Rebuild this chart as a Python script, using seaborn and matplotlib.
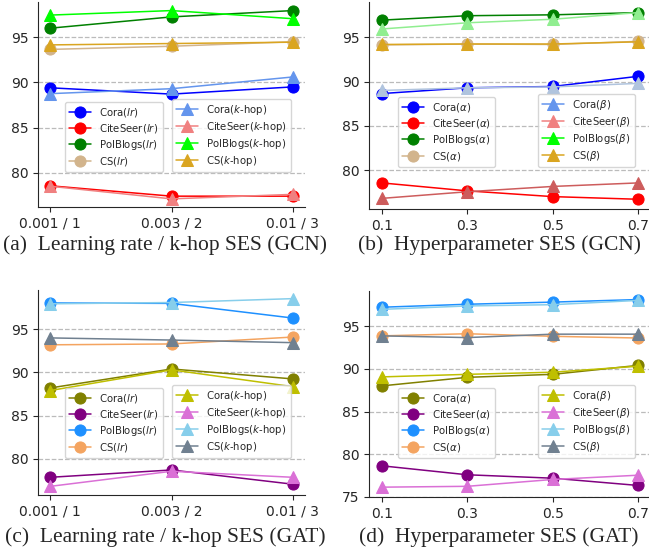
import matplotlib
matplotlib.use("Agg")
import matplotlib.pyplot as plt
import seaborn as sns
import pandas as pd

# --- data ---
datasets = ["Cora", "CiteSeer", "PolBlogs", "CS"]
lr_ticks = ["0.001 / 1", "0.003 / 2", "0.01 / 3"]
hp_ticks = [0.1, 0.3, 0.5, 0.7]

# (a) GCN: learning rate / k-hop
gcn_lr = [[89.4, 88.7, 89.5], [78.55, 77.4, 77.4], [96.0, 97.25, 97.95], [93.65, 94.0, 94.5]]
gcn_khop = [[88.75, 89.3, 90.6], [78.5, 77.1, 77.6], [97.45, 97.95, 97.05], [94.15, 94.3, 94.45]]
# (b) GCN: alpha / beta
gcn_alpha = [[88.65, 89.3, 89.45, 90.6], [78.55, 77.65, 77.0, 76.7],
             [96.95, 97.45, 97.55, 97.8], [94.15, 94.25, 94.2, 94.55]]
gcn_beta = [[89.0, 89.3, 89.4, 89.8], [76.8, 77.55, 78.15, 78.55],
            [95.95, 96.65, 97.05, 97.8], [94.2, 94.25, 94.25, 94.5]]
# (c) GAT: learning rate / k-hop
gat_lr = [[88.2, 90.4, 89.25], [77.85, 78.7, 77.05], [98.05, 98.0, 96.3], [93.2, 93.3, 94.1]]
gat_khop = [[87.9, 90.3, 88.35], [76.8, 78.55, 77.85], [97.95, 98.1, 98.55], [94.0, 93.75, 93.45]]
# (d) GAT: alpha / beta
gat_alpha = [[88.0, 89.0, 89.35, 90.4], [78.65, 77.6, 77.2, 76.35],
             [97.2, 97.55, 97.8, 98.1], [93.85, 94.1, 93.8, 93.6]]
gat_beta = [[89.05, 89.35, 89.6, 90.3], [76.15, 76.25, 77.05, 77.55],
            [96.95, 97.35, 97.5, 98.0], [93.85, 93.65, 94.05, 94.05]]

gcn_c1 = ["blue", "red", "green", "tan"]
gcn_c2 = ["cornflowerblue", "lightcoral", "lime", "goldenrod"]
gcn_c2_plot_b = ["lightsteelblue", "indianred", "lightgreen", "goldenrod"]
gat_c1 = ["olive", "purple", "dodgerblue", "sandybrown"]
gat_c2 = ["y", "orchid", "skyblue", "slategray"]

W, H = 649, 552
sns.set_style("ticks")
plt.rcParams["font.family"] = ["DejaVu Sans"]
plt.rcParams["xtick.labelsize"] = 10
plt.rcParams["ytick.labelsize"] = 10
plt.rcParams["xtick.major.size"] = 3.5
plt.rcParams["ytick.major.size"] = 3.5

fig = plt.figure(figsize=(W / 100, H / 100), dpi=100)


def px_axes(l, r, t, b):
    return fig.add_axes([l / W, 1 - b / H, (r - l) / W, (b - t) / H])


def draw_panel(ax, x, set1, set2, c1, c2, suf1, suf2, ylim, yticks, leg1_xy, leg2_xy, c2_plot=None):
    if c2_plot is None:
        c2_plot = c2
    h1 = []
    h2 = []
    for i, name in enumerate(datasets):
        df = pd.DataFrame({"x": x, "y": set1[i]})
        sns.lineplot(data=df, x="x", y="y", ax=ax, color=c1[i], marker="o", markersize=8,
                     markeredgecolor=c1[i], linewidth=1.1, label=f"{name}({suf1})", sort=False)
        h1.append(ax.lines[-1])
    for i, name in enumerate(datasets):
        df = pd.DataFrame({"x": x, "y": set2[i]})
        sns.lineplot(data=df, x="x", y="y", ax=ax, color=c2_plot[i], marker="^", markersize=8,
                     markeredgecolor=c2_plot[i], linewidth=1.1, label=f"{name}({suf2})", sort=False)
        h2.append(ax.lines[-1])
    ax.set_ylim(*ylim)
    ax.set_yticks(yticks)
    ax.set_xlabel("")
    ax.set_ylabel("")
    ax.yaxis.grid(True, linestyle="--", color="#bbbbbb", linewidth=0.9)
    ax.set_axisbelow(True)
    sns.despine(ax=ax)
    kw = dict(loc="lower left", bbox_transform=fig.transFigure, borderaxespad=0,
              fontsize=7.3, handlelength=2.2, labelspacing=0.3, borderpad=0.4)
    leg1 = ax.legend(h1, [l.get_label() for l in h1], bbox_to_anchor=(leg1_xy[0] / W, 1 - leg1_xy[1] / H), **kw)
    ax.add_artist(leg1)
    leg2 = ax.legend(h2, [l.get_label() for l in h2], bbox_to_anchor=(leg2_xy[0] / W, 1 - leg2_xy[1] / H), **kw)
    for hd, col in zip(leg2.legend_handles, c2):
        hd.set_color(col)
        hd.set_markeredgecolor(col)
        hd.set_markerfacecolor(col)


ax_a = px_axes(38, 305, 2, 207)
draw_panel(ax_a, lr_ticks, gcn_lr, gcn_khop, gcn_c1, gcn_c2, r"$\mathit{lr}$", r"$k$-hop",
           (76.2, 98.9), [80, 85, 90, 95], (65, 172), (172, 172))

ax_b = px_axes(369, 651, 2, 209)
draw_panel(ax_b, hp_ticks, gcn_alpha, gcn_beta, gcn_c1, gcn_c2, r"$\alpha$", r"$\beta$",
           (75.6, 99.0), [80, 85, 90, 95], (398, 167), (538, 167), c2_plot=gcn_c2_plot_b)
ax_b.set_xticks(hp_ticks)
ax_b.set_xlim(0.07, 0.73)

ax_c = px_axes(38, 305, 290, 495)
draw_panel(ax_c, lr_ticks, gat_lr, gat_khop, gat_c1, gat_c2, r"$\mathit{lr}$", r"$k$-hop",
           (75.8, 99.55), [80, 85, 90, 95], (65, 458), (172, 458))

ax_d = px_axes(369, 651, 291, 497)
draw_panel(ax_d, hp_ticks, gat_alpha, gat_beta, gat_c1, gat_c2, r"$\alpha$", r"$\beta$",
           (75.0, 99.1), [75, 80, 85, 90, 95], (398, 458), (538, 458))
ax_d.set_xticks(hp_ticks)
ax_d.set_xlim(0.07, 0.73)

for ax in (ax_a, ax_c):
    ax.set_xlim(-0.1, 2.1)

cap = dict(ha="center", va="center", fontsize=15.5, family=["Liberation Serif"])
fig.text(165 / W, 1 - 245 / H, "(a)  Learning rate / k-hop SES (GCN)", **cap)
fig.text(499 / W, 1 - 245 / H, "(b)  Hyperparameter SES (GCN)", **cap)
fig.text(165 / W, 1 - 537 / H, "(c)  Learning rate / k-hop SES (GAT)", **cap)
fig.text(499 / W, 1 - 537 / H, "(d)  Hyperparameter SES (GAT)", **cap)

fig.savefig("out.png", dpi=100)
